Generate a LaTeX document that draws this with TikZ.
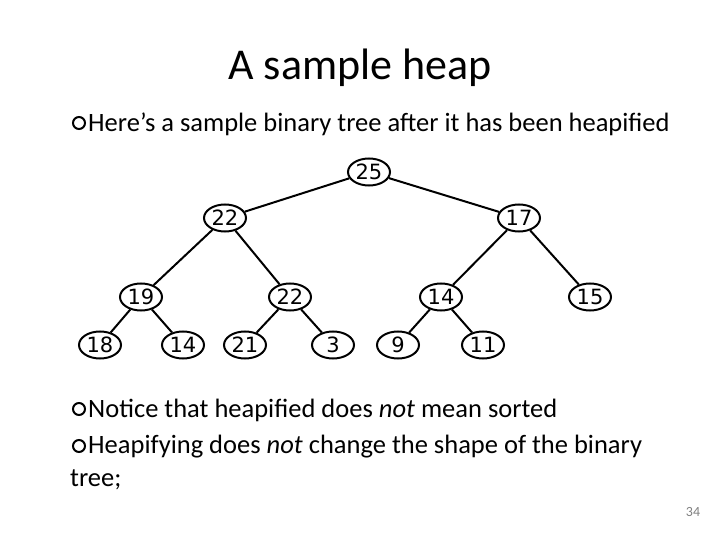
\documentclass[tikz,border=0pt]{standalone}
\usepackage{fontspec}
\setmainfont{Carlito}
\newfontfamily\treefont{DejaVu Sans}
\usetikzlibrary{shapes.geometric}
\begin{document}
\begin{tikzpicture}[x=1pt,y=-1pt,
  hn/.style={draw,ellipse,line width=2pt,minimum width=42pt,minimum height=27pt,inner sep=0pt,font=\treefont\fontsize{21}{24}\selectfont},
  edge/.style={line width=2pt},
  bul/.style={draw,circle,line width=2pt,minimum size=12pt,inner sep=0pt},
  txt/.style={anchor=west,inner sep=0pt,font=\fontsize{26.5}{30}\selectfont}]
\useasboundingbox (0,0) rectangle (720,540);
\node[inner sep=0pt,font=\fontsize{44}{48}\selectfont] (title) at (360,68) {A sample heap};
\node[bul] (b1) at (79,123) {};
\node[txt] (t1) at (88,124) {Here’s a sample binary tree after it has been heapified};
\node[hn] (n25) at (369,172) {25};
\node[hn] (n22) at (225,218) {22};
\node[hn] (n17) at (519,218) {17};
\node[hn] (n19) at (141,297) {19};
\node[hn] (n22b) at (290,297) {22};
\node[hn] (n14) at (441,297) {14};
\node[hn] (n15) at (590,297) {15};
\node[hn] (n18) at (100,345) {18};
\node[hn] (n14b) at (183,345) {14};
\node[hn] (n21) at (245,345) {21};
\node[hn] (n3) at (333,345) {3};
\node[hn] (n9) at (398,345) {9};
\node[hn] (n11) at (483,345) {11};
\foreach \a/\b in {n25/n22,n25/n17,n22/n19,n22/n22b,n17/n14,n17/n15,n19/n18,n19/n14b,n22b/n21,n22b/n3,n14/n9,n14/n11}
  \draw[edge] (\a) -- (\b);
\node[bul] (b2) at (79,409) {};
\node[txt] (t2) at (88,410) {Notice that heapified does \emph{not} mean sorted};
\node[bul] (b3) at (79,446) {};
\node[txt] (t3) at (88,447) {Heapifying does \emph{not} change the shape of the binary};
\node[txt] (t4) at (70,480) {tree;};
\node[inner sep=0pt,font=\fontsize{14}{16}\selectfont,text=gray] (pg) at (693,512) {34};
\end{tikzpicture}
\end{document}
